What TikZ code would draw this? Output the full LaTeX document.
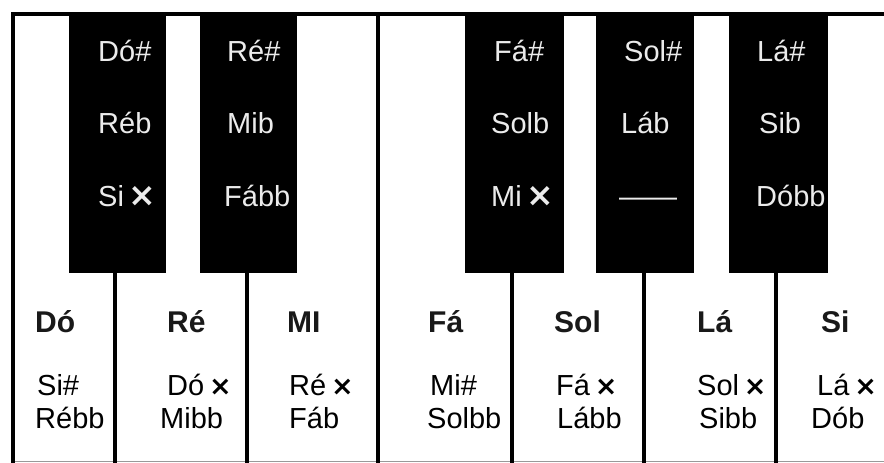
\documentclass[tikz,border=0pt]{standalone}
\usepackage{fontspec}
\setmainfont{Liberation Sans}
\newfontfamily\symfont{DejaVu Sans}
\newcommand{\dsh}{{\symfont\bfseries\fontsize{33}{33}\selectfont ×}}
\newcommand{\dshs}{{\symfont\bfseries\fontsize{27}{27}\selectfont ×}}
\begin{document}
\begin{tikzpicture}[x=1pt,y=-1pt,
  keyline/.style={line width=4.2pt,black},
  blackkey/.style={fill=black},
  btext/.style={anchor=base west,inner sep=0pt,text=white!92!black,font=\fontsize{29}{29}\selectfont},
  wtop/.style={anchor=base west,inner sep=0pt,text=black!90,font=\fontsize{30}{30}\selectfont\bfseries},
  wlow/.style={anchor=base west,inner sep=0pt,text=black,font=\fontsize{29}{29}\selectfont}]
\useasboundingbox (0,0) rectangle (884,463);
\fill[white] (0,0) rectangle (884,463);
% bottom thin line
\draw[black!40,line width=1pt] (13,461.5) -- (884,461.5);
% white key dividers
\foreach \x in {115,247,512,644,776} \draw[keyline] (\x,200) -- (\x,463);
\draw[keyline] (378,14) -- (378,463);
\draw[keyline] (13,12) -- (13,463);
% top border
\draw[keyline] (11,14) -- (884,14);
% black keys
\fill[blackkey] (69,12) rectangle (166,273);
\fill[blackkey] (200,12) rectangle (297,273);
\fill[blackkey] (465,12) rectangle (564,273);
\fill[blackkey] (596,12) rectangle (694,273);
\fill[blackkey] (729,12) rectangle (828,273);
% black key labels
\node[btext] (cs1) at (98,61) {Dó\#};
\node[btext] (cs2) at (98,133) {Réb};
\node[btext] (cs3) at (98,206) {Si\,\dsh};
\node[btext] (ds1) at (227,61) {Ré\#};
\node[btext] (ds2) at (227,133) {Mib};
\node[btext] (ds3) at (224,206) {Fább};
\node[btext] (fs1) at (494,61) {Fá\#};
\node[btext] (fs2) at (491,133) {Solb};
\node[btext] (fs3) at (491,206) {Mi\,\dsh};
\node[btext] (gs1) at (624,61) {Sol\#};
\node[btext] (gs2) at (621,133) {Láb};
\node[btext] (gs3) at (619,206) {——};
\node[btext] (as1) at (757,61) {Lá\#};
\node[btext] (as2) at (759,133) {Sib};
\node[btext] (as3) at (756,206) {Dóbb};
% white key labels
\node[wtop] (c1) at (35,332) {Dó};
\node[wtop] (d1) at (167,332) {Ré};
\node[wtop] (e1) at (287,332) {MI};
\node[wtop] (f1) at (428,332) {Fá};
\node[wtop] (g1) at (554,332) {Sol};
\node[wtop] (a1) at (697,332) {Lá};
\node[wtop] (b1) at (821,332) {Si};
\node[wlow] (c2) at (37,395) {Si\#};
\node[wlow] (d2) at (167,395) {Dó\,\dshs};
\node[wlow] (e2) at (289,395) {Ré\,\dshs};
\node[wlow] (f2) at (430,395) {Mi\#};
\node[wlow] (g2) at (556,395) {Fá\,\dshs};
\node[wlow] (a2) at (697,395) {Sol\,\dshs};
\node[wlow] (b2) at (817,395) {Lá\,\dshs};
\node[wlow] (c3) at (35,428) {Rébb};
\node[wlow] (d3) at (160,428) {Mibb};
\node[wlow] (e3) at (289,428) {Fáb};
\node[wlow] (f3) at (427,428) {Solbb};
\node[wlow] (g3) at (557,428) {Lább};
\node[wlow] (a3) at (699,428) {Sibb};
\node[wlow] (b3) at (811,428) {Dób};
\end{tikzpicture}
\end{document}
